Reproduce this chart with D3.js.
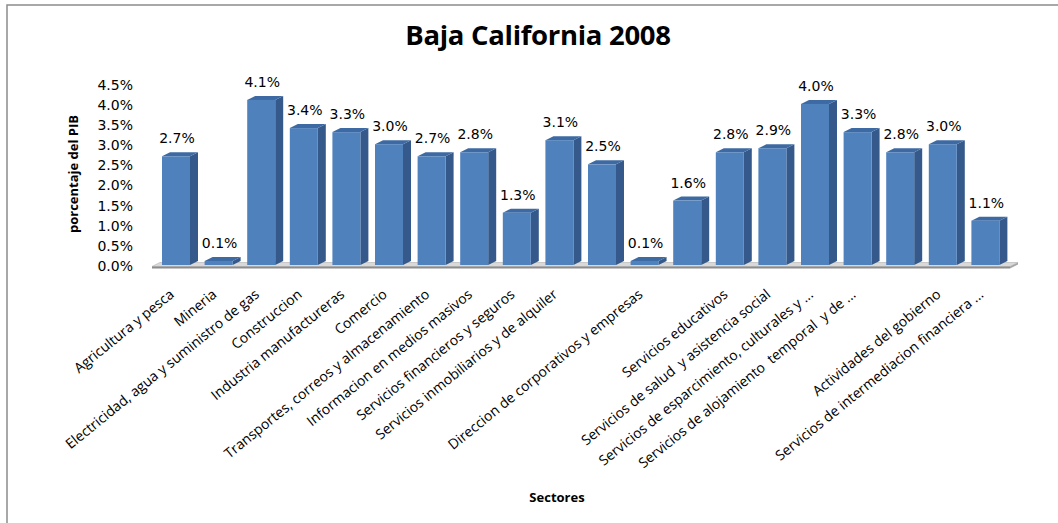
<!DOCTYPE html>
<html><head><meta charset="utf-8">
<script src="https://cdn.jsdelivr.net/npm/d3@7"></script>
<style>body{margin:0;background:#fff}svg{display:block}</style>
</head><body>
<script>
// 20 sectors; three bars carry no visible axis label in the original chart
const categories = [
  "Agricultura y pesca",
  "Mineria",
  "Electricidad, agua y suministro de gas",
  "Construccion",
  "Industria manufactureras",
  "Comercio",
  "Transportes, correos y almacenamiento",
  "Informacion en medios masivos",
  "Servicios financieros y seguros",
  "Servicios inmobiliarios y de alquiler",
  "",
  "Direccion de corporativos y empresas",
  "",
  "Servicios educativos",
  "Servicios de salud  y asistencia social",
  "Servicios de esparcimiento, culturales y ...",
  "Servicios de alojamiento  temporal  y de ...",
  "",
  "Actividades del gobierno",
  "Servicios de intermediacion financiera ..."
];
const values = [2.7, 0.1, 4.1, 3.4, 3.3, 3.0, 2.7, 2.8, 1.3, 3.1, 2.5, 0.1, 1.6, 2.8, 2.9, 4.0, 3.3, 2.8, 3.0, 1.1];
const yTicks = [0, 0.5, 1.0, 1.5, 2.0, 2.5, 3.0, 3.5, 4.0, 4.5];
const title = "Baja California 2008";
const yTitle = "porcentaje del PIB";
const xTitle = "Sectores";

const W = 1058, H = 523;
const svg = d3.select("body").append("svg").attr("width", W).attr("height", H);

// chart border
svg.append("rect").attr("x", 7).attr("y", 5).attr("width", W + 10).attr("height", H + 10)
  .attr("fill", "#fff").attr("stroke", "#8c8c8c").attr("stroke-width", 1.5);

const idx = d3.range(values.length);
const x = d3.scaleBand().domain(idx).range([147.4, 1014]).padding(0.343);
const y = d3.scaleLinear().domain([0, 4.5]).range([265, 83.8]);
const dx = 8, dy = -4;

// title
svg.append("text").attr("x", 538).attr("y", 45).attr("text-anchor", "middle")
  .attr("font-family", "Open Sans, sans-serif").attr("font-weight", "bold").attr("font-size", 27.5)
  .attr("letter-spacing", -0.3)
  .attr("fill", "#000").text(title);

// axis titles
svg.append("text").attr("transform", "translate(78,174) rotate(-90)").attr("text-anchor", "middle")
  .attr("font-family", "Open Sans, sans-serif").attr("font-weight", "bold").attr("font-size", 13)
  .attr("fill", "#000").text(yTitle);
svg.append("text").attr("x", 557).attr("y", 502).attr("text-anchor", "middle")
  .attr("font-family", "Open Sans, sans-serif").attr("font-weight", "bold").attr("font-size", 13)
  .attr("fill", "#000").text(xTitle);

// floor
const fx0 = 152, fx1 = 1010, fy = y(0) + 1.5;
svg.append("path")
  .attr("d", `M${fx0},${fy} L${fx1},${fy} L${fx1+dx},${fy+dy} L${fx0+dx},${fy+dy} Z`)
  .attr("fill", "#d9d9d9").attr("stroke", "#bfbfbf").attr("stroke-width", 0.8);
svg.append("path")
  .attr("d", `M${fx0},${fy} L${fx1},${fy} L${fx1},${fy+2} L${fx0},${fy+2} Z`)
  .attr("fill", "#8c8c8c");
svg.append("path")
  .attr("d", `M${fx1},${fy} L${fx1+dx},${fy+dy} L${fx1+dx},${fy+dy+2} L${fx1},${fy+2} Z`)
  .attr("fill", "#a6a6a6");

// y axis labels
svg.append("g").selectAll("text").data(yTicks).join("text")
  .attr("x", 133).attr("y", d => y(d) + 2)
  .attr("text-anchor", "end").attr("dominant-baseline", "middle")
  .attr("font-family", "DejaVu Sans, Verdana, sans-serif").attr("font-size", 14)
  .attr("fill", "#000")
  .text(d => d3.format(".1f")(d) + "%");

// bars
const bars = svg.append("g").selectAll("g").data(idx).join("g");
bars.each(function(i) {
  const g = d3.select(this);
  const x0 = x(i), w = x.bandwidth(), yt = y(values[i]), yb = y(0);
  g.append("path").attr("d", `M${x0+w},${yb} L${x0+w+dx},${yb+dy} L${x0+w+dx},${yt+dy} L${x0+w},${yt} Z`)
    .attr("fill", "#34598a");
  g.append("path").attr("d", `M${x0},${yt} L${x0+w},${yt} L${x0+w+dx},${yt+dy} L${x0+dx},${yt+dy} Z`)
    .attr("fill", "#3d6aa3");
  g.append("rect").attr("x", x0).attr("y", yt).attr("width", w).attr("height", yb - yt)
    .attr("fill", "#4f81bd");
});

// value labels
svg.append("g").selectAll("text").data(idx).join("text")
  .attr("x", i => x(i) + x.bandwidth() / 2 + 1)
  .attr("y", i => y(values[i]) - 17)
  .attr("text-anchor", "middle").attr("dominant-baseline", "middle")
  .attr("font-family", "DejaVu Sans, Verdana, sans-serif").attr("font-size", 14)
  .attr("fill", "#000")
  .text(i => d3.format(".1f")(values[i]) + "%");

// category labels
svg.append("g").selectAll("text").data(idx).join("text")
  .attr("transform", i => `translate(${x(i) + x.bandwidth() / 2 - 1},296) rotate(-39)`)
  .attr("text-anchor", "end")
  .attr("font-family", "Open Sans, sans-serif").attr("font-size", 14)
  .attr("fill", "#000")
  .style("white-space", "pre")
  .text(i => categories[i]);
</script>
</body></html>
